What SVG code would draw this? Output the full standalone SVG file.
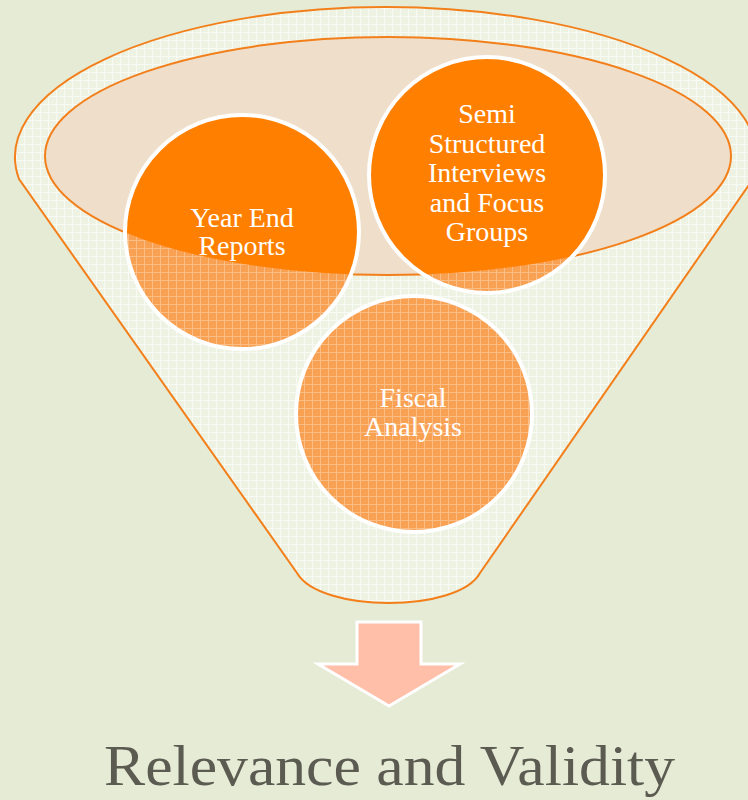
<svg xmlns="http://www.w3.org/2000/svg" width="748" height="800" viewBox="0 0 748 800">
  <defs>
    <style>
      .rim { stroke: #F27F1A; stroke-width: 2; }
      .ring { fill: none; stroke: #FFFFFF; stroke-width: 4; }
      .solid { fill: #FF7F00; }
      .light { fill: url(#dotsOrange); }
      .label { font-family: "Liberation Serif", "DejaVu Serif", serif; font-size: 28px; fill: #FFFFFF; text-anchor: middle; }
    </style>
    <!-- faint white grid on the funnel body -->
    <pattern id="gridBody" width="8" height="8" patternUnits="userSpaceOnUse">
      <rect width="8" height="8" fill="#EEF2E3"/>
      <path d="M0 0.5H8M0.5 0V8" stroke="#FFFFFF" stroke-width="1" opacity="0.6"/>
    </pattern>
    <!-- grid texture for the lower, lighter part of the circles -->
    <pattern id="dotsOrange" width="8" height="8" patternUnits="userSpaceOnUse">
      <rect width="8" height="8" fill="#F9A152"/>
      <path d="M0 0.5H8M0.5 0V8" stroke="#FFFFFF" stroke-width="1" opacity="0.3"/>
    </pattern>
    <clipPath id="mouth">
      <ellipse cx="388" cy="156" rx="343" ry="119"/>
    </clipPath>
  </defs>

  <rect width="748" height="800" fill="#E6EBD6"/>

  <!-- funnel body -->
  <g id="funnel">
    <path d="M19 179 A371 150 0 1 1 753 179 L480 573 C458 613 320 613 297 573 Z" fill="url(#gridBody)" class="rim"/>
    <ellipse cx="388" cy="156" rx="343" ry="119" fill="#EFDECA" class="rim"/>
  </g>

  <g id="node-year-end">
    <circle cx="242" cy="232" r="117" class="light"/>
    <circle cx="242" cy="232" r="117" class="solid" clip-path="url(#mouth)"/>
    <circle cx="242" cy="232" r="117" class="ring"/>
    <text class="label" x="242" y="227">Year End</text>
    <text class="label" x="242" y="255">Reports</text>
  </g>

  <g id="node-interviews">
    <circle cx="487" cy="175" r="118" class="light"/>
    <circle cx="487" cy="175" r="118" class="solid" clip-path="url(#mouth)"/>
    <circle cx="487" cy="175" r="118" class="ring"/>
    <text class="label" x="487" y="123">Semi</text>
    <text class="label" x="487" y="153">Structured</text>
    <text class="label" x="487" y="182">Interviews</text>
    <text class="label" x="487" y="212">and Focus</text>
    <text class="label" x="487" y="241">Groups</text>
  </g>

  <g id="node-fiscal">
    <circle cx="414" cy="414" r="118" class="light"/>
    <circle cx="414" cy="414" r="118" class="ring"/>
    <text class="label" x="413" y="407">Fiscal</text>
    <text class="label" x="413" y="436">Analysis</text>
  </g>

  <g id="connectors">
    <path d="M357 622 H421 V664 H460 L389 706 L318 664 H357 Z" fill="#FFBFA9" stroke="#FFFFFF" stroke-width="3" stroke-linejoin="miter"/>
  </g>

  <g id="result">
    <text x="104" y="785" textLength="571" lengthAdjust="spacingAndGlyphs" font-family="Liberation Serif, DejaVu Serif, serif" font-size="56" fill="#5B5B51">Relevance and Validity</text>
  </g>
</svg>
